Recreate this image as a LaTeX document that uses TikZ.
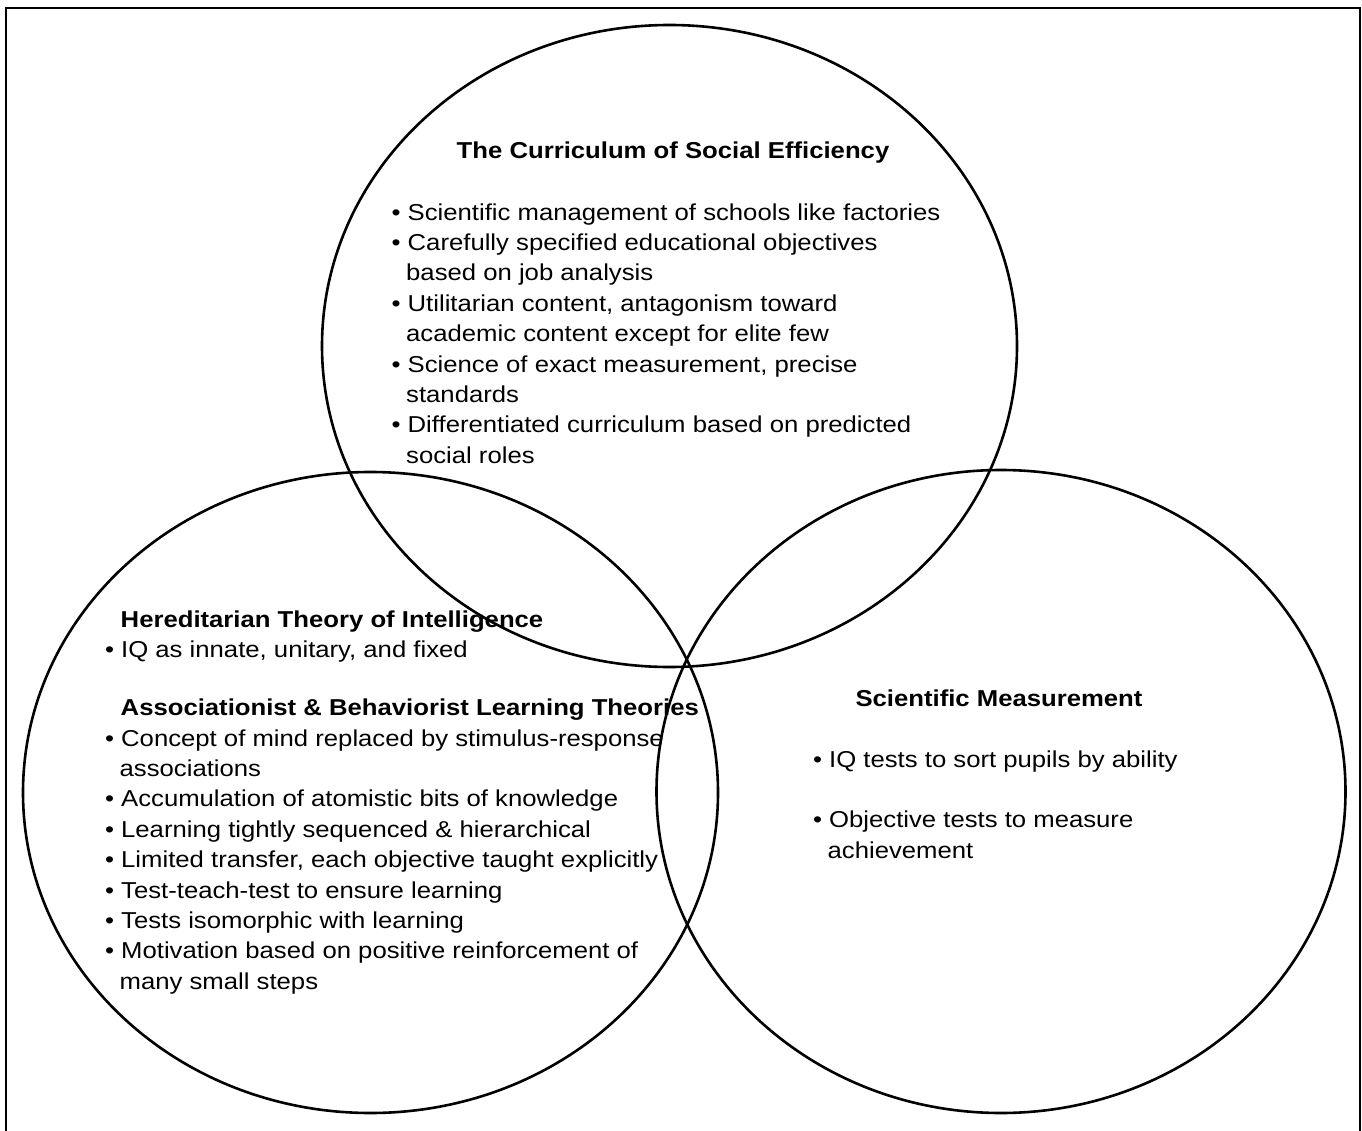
\documentclass[tikz,border=0pt]{standalone}
\usepackage{fontspec}
\setmainfont{Liberation Sans}[FakeStretch=1.117]
\newcommand{\venntext}{\fontsize{23}{30.4}\selectfont}
\newcommand{\bul}{\makebox[16pt][l]{\textbullet}}
\newcommand{\cont}{\hspace*{14.5pt}}
\newcommand{\headind}{\hspace*{15.5pt}}
\tikzset{
  venn/.style={line width=2.6pt},
  frame/.style={line width=2pt},
  block/.style={anchor=north west, align=left, inner sep=0pt, font=\venntext},
  head/.style={anchor=base, inner sep=0pt, font=\venntext\bfseries}
}
\begin{document}
\begin{tikzpicture}[x=1pt, y=-1pt]
  \useasboundingbox (0,0) rectangle (1362,1131);
  \draw[frame] (6,1131) |- (1360,8) -- (1360,1131);
  % the three circles
  \draw[venn] (669.5,346) ellipse [x radius=347.5, y radius=321];
  \draw[venn] (370.5,792.5) ellipse [x radius=347.5, y radius=320.5];
  \draw[venn] (1001,791.5) ellipse [x radius=344.5, y radius=321.5];
  % top circle
  \node[head] (socialhead) at (673,158.3) {The Curriculum of Social Efficiency};
  \node[block] (social) at (391.5,198.7) {\strut\bul Scientific management of schools like factories\\
    \bul Carefully specified educational objectives\\
    \cont based on job analysis\\
    \bul Utilitarian content, antagonism toward\\
    \cont academic content except for elite few\\
    \bul Science of exact measurement, precise\\
    \cont standards\\
    \bul Differentiated curriculum based on predicted\\
    \cont social roles};
  % left circle
  \node[block] (learning) at (105,605.7) {\strut\headind\textbf{Hereditarian Theory of Intelligence}\\
    \bul IQ as innate, unitary, and fixed\\[27.7pt]
    \headind\textbf{Associationist \& Behaviorist Learning Theories}\\
    \bul Concept of mind replaced by stimulus-response\\
    \cont associations\\
    \bul Accumulation of atomistic bits of knowledge\\
    \bul Learning tightly sequenced \& hierarchical\\
    \bul Limited transfer, each objective taught explicitly\\
    \bul Test-teach-test to ensure learning\\
    \bul Tests isomorphic with learning\\
    \bul Motivation based on positive reinforcement of\\
    \cont many small steps};
  % right circle
  \node[head] (measurehead) at (999,706) {Scientific Measurement};
  \node[block] (measure) at (813,745.7) {\strut\bul IQ tests to sort pupils by ability\\[30.4pt]
    \bul Objective tests to measure\\
    \cont achievement};
\end{tikzpicture}
\end{document}
